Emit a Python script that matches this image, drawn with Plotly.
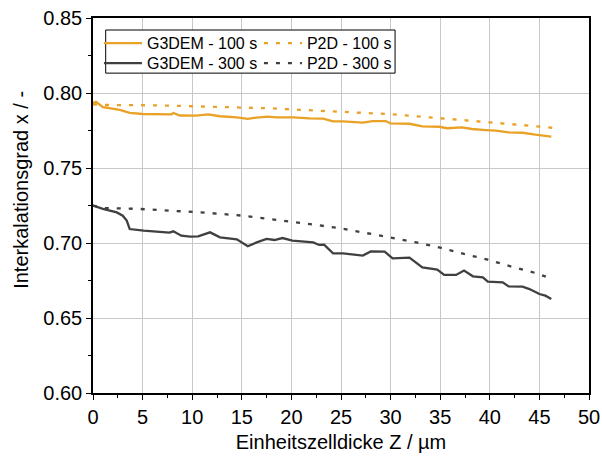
import plotly.graph_objects as go

# G3DEM - 100 s
x_g100 = [0, 0.3, 1.0, 2.7, 3.7, 5.0, 7.9, 8.1, 8.75, 10.4, 11.6, 12.8, 14.5, 15.6, 16.5, 17.6, 18.5,
          20.2, 21.8, 23.2, 24.2, 25.2, 27.2, 28.2, 29.5, 30.0, 31.9, 33.2, 34.9, 35.7, 37.2, 38.2,
          39.6, 40.6, 41.9, 43.3, 44.6, 46.2]
y_g100 = [0.7933, 0.7941, 0.7905, 0.7887, 0.7867, 0.7860, 0.7858, 0.7867, 0.7850, 0.7849, 0.7858, 0.7845,
          0.7838, 0.7827, 0.7836, 0.7842, 0.7838, 0.7838, 0.7831, 0.7829, 0.7811, 0.7811, 0.7802,
          0.7813, 0.7813, 0.7798, 0.7795, 0.7778, 0.7775, 0.7765, 0.7771, 0.7760, 0.7753, 0.7749,
          0.7738, 0.7735, 0.7722, 0.7709]

# P2D - 100 s
x_p100 = [0, 1.2, 6.4, 12.8, 17.8, 22.8, 27.7, 30.2, 33.9, 36.4, 38.9, 41.4, 44.0, 46.5]
y_p100 = [0.7925, 0.7920, 0.7918, 0.7904, 0.7898, 0.7882, 0.7867, 0.7858, 0.7838, 0.7825, 0.7811,
          0.7798, 0.7782, 0.7767]

# G3DEM - 300 s
x_g300 = [0, 1.0, 2.4, 3.0, 3.4, 3.7, 5.1, 6.4, 7.7, 8.1, 8.9, 9.8, 10.6, 11.8, 12.8, 14.5, 15.6,
          16.5, 17.5, 18.3, 19.1, 20.1, 21.2, 22.2, 22.8, 23.3, 24.2, 25.2, 27.2, 28.0, 29.4, 30.2,
          31.9, 33.2, 34.7, 35.4, 36.6, 37.4, 38.3, 39.3, 39.8, 41.3, 41.9, 43.3, 44.0, 45.0, 45.6,
          46.2]
y_g300 = [0.7249, 0.7227, 0.7204, 0.7182, 0.7149, 0.7093, 0.7082, 0.7078, 0.7069, 0.7078, 0.7049,
          0.7042, 0.7044, 0.7071, 0.7038, 0.7024, 0.6978, 0.7004, 0.7027, 0.7020, 0.7033, 0.7016,
          0.7009, 0.7004, 0.6987, 0.6989, 0.6931, 0.6931, 0.6916, 0.6944, 0.6942, 0.6898, 0.6902,
          0.6838, 0.6822, 0.6787, 0.6787, 0.6816, 0.6778, 0.6771, 0.6742, 0.6738, 0.6711, 0.6709,
          0.6693, 0.6660, 0.6649, 0.6627]

# P2D - 300 s
x_p300 = [0, 1.2, 4.7, 7.7, 11.4, 15.1, 18.8, 22.5, 24.8, 27.5, 30.0, 32.6, 35.1, 37.4, 39.8, 42.1,
          44.6, 46.0]
y_p300 = [0.7250, 0.7233, 0.7227, 0.7218, 0.7202, 0.7182, 0.7153, 0.7120, 0.7100, 0.7065, 0.7036,
          0.7004, 0.6967, 0.6927, 0.6889, 0.6844, 0.6800, 0.6767]

x_ticks = [0, 5, 10, 15, 20, 25, 30, 35, 40, 45, 50]
y_ticks = [0.60, 0.65, 0.70, 0.75, 0.80, 0.85]

ORANGE = "#E9A126"
DARK = "#404040"
FONT = "Liberation Sans, Arial, sans-serif"

fig = go.Figure()
fig.add_trace(go.Scatter(x=x_g100, y=y_g100, mode="lines", name="G3DEM - 100 s", legend="legend",
                         line=dict(color=ORANGE, width=2.3)))
fig.add_trace(go.Scatter(x=x_p100, y=y_p100, mode="lines", name="P2D - 100 s", legend="legend",
                         line=dict(color=ORANGE, width=2.3, dash="4px,8px")))
fig.add_trace(go.Scatter(x=x_g300, y=y_g300, mode="lines", name="G3DEM - 300 s", legend="legend2",
                         line=dict(color=DARK, width=2.3)))
fig.add_trace(go.Scatter(x=x_p300, y=y_p300, mode="lines", name="P2D - 300 s", legend="legend2",
                         line=dict(color=DARK, width=2.3, dash="4px,8px")))

axis_common = dict(
    showline=True, linecolor="black", linewidth=1.5, mirror=True,
    ticks="outside", ticklen=5, tickwidth=1, tickcolor="black",
    showgrid=True, gridcolor="#c8c8c8", gridwidth=1,
    zeroline=False, automargin=False,
    tickfont=dict(family=FONT, size=20, color="black"),
)

fig.update_xaxes(
    range=[0, 50], tickvals=x_ticks, ticktext=[str(v) for v in x_ticks],
    minor=dict(ticks="outside", ticklen=3, dtick=2.5, tick0=0, tickcolor="black", showgrid=False),
    title=dict(text="Einheitszelldicke Z / µm", font=dict(family=FONT, size=20, color="black"),
               standoff=8),
    **axis_common,
)
fig.update_yaxes(
    range=[0.60, 0.85], tickvals=y_ticks, ticktext=[f"{v:.2f}" for v in y_ticks],
    minor=dict(ticks="outside", ticklen=3, dtick=0.025, tick0=0.6, tickcolor="black", showgrid=False),
    **axis_common,
)

legend_common = dict(
    xanchor="left", yanchor="top", orientation="h",
    entrywidth=107, entrywidthmode="pixels", itemwidth=38,
    bgcolor="rgba(0,0,0,0)", borderwidth=0,
    font=dict(family=FONT, size=16, color="black"),
)

fig.update_layout(
    width=602, height=456,
    margin=dict(l=93, r=13, t=18, b=63, pad=0, autoexpand=False),
    paper_bgcolor="white", plot_bgcolor="white",
    font=dict(family=FONT, color="black"),
    showlegend=True,
    legend=dict(x=0.012, y=0.978, **legend_common),
    legend2=dict(x=0.012, y=0.925, **legend_common),
    shapes=[dict(type="rect", xref="paper", yref="paper", x0=0.0256, x1=0.609, y0=0.853, y1=0.968,
                 line=dict(color="black", width=1), fillcolor="white", layer="above")],
    annotations=[dict(text="Interkalationsgrad x / -", xref="paper", yref="paper",
                      x=-0.1458, y=0.541, xanchor="center", yanchor="middle", textangle=-90,
                      showarrow=False, font=dict(family=FONT, size=20, color="black"))],
)

fig.write_html("out.html")
